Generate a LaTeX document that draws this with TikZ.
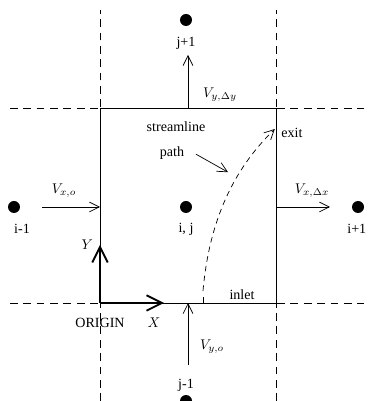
\documentclass[tikz,border=0pt]{standalone}
\usepackage{fontspec}
\setmainfont{Liberation Serif}
\usetikzlibrary{arrows.meta}
\tikzset{
  grid/.style={dash pattern=on 5.5pt off 4pt, line width=0.5pt},
  cell/.style={circle, fill=black, inner sep=0pt, minimum size=0.3cm},
  flux/.style={line width=0.5pt, -{Straight Barb[length=7pt, width=7pt]}},
  axis/.style={line width=1.6pt, -{Straight Barb[length=11pt, width=11pt, line width=1.3pt]}},
  lbl/.style={inner sep=1pt}
}
\begin{document}
\begin{tikzpicture}
    \useasboundingbox (-2.5,-2.45) rectangle (6.75,7.575);

    % Líneas de la malla
    \draw[grid] (-2.25,0) -- (6.6,0);
    \draw[grid] (-2.25,4.875) -- (6.6,4.875);
    \draw[grid] (0,-2.45) -- (0,7.325);
    \draw[grid] (4.4,-2.45) -- (4.4,7.325);

    % Celda
    \draw[line width=0.6pt] (0,0) rectangle (4.4,4.875);

    % Centros de las celdas
    \node[cell] (jp) at (2.15,7.075) {};
    \node[cell] (im) at (-2.15,2.4) {};
    \node[cell] (ij) at (2.15,2.4) {};
    \node[cell] (ip) at (6.45,2.4) {};
    \node[cell] (jm) at (2.15,-2.45) {};
    \node[lbl] at (2.15,6.5) {j+1};
    \node[lbl] at (-1.95,1.85) {i-1};
    \node[lbl] at (2.15,1.85) {i, j};
    \node[lbl] at (6.42,1.85) {i+1};
    \node[lbl] at (2.15,-2.05) {j-1};

    % Velocidades en las caras
    \coordinate (ytop) at (2.2,4.875);
    \coordinate (ytopend) at (2.2,6.2);
    \coordinate (xleft) at (-1.45,2.4);
    \coordinate (xleftend) at (0,2.4);
    \coordinate (xright) at (4.4,2.4);
    \coordinate (xrightend) at (5.75,2.4);
    \coordinate (ybot) at (2.2,-1.55);
    \coordinate (ybotend) at (2.2,0);
    \draw[flux] (ytop) -- (ytopend);
    \draw[flux] (xleft) -- (xleftend);
    \draw[flux] (xright) -- (xrightend);
    \draw[flux] (ybot) -- (ybotend);
    \node[lbl] at (3.0,5.2) {$V_{y,\Delta y}$};
    \node[lbl] at (-0.9,2.8) {$V_{x,o}$};
    \node[lbl] at (5.3,2.8) {$V_{x,\Delta x}$};
    \node[lbl] at (2.8,-1.1) {$V_{y,o}$};

    % Ejes
    \coordinate (orig) at (0,0);
    \coordinate (yax) at (0,1.45);
    \coordinate (xax) at (1.6,0);
    \draw[axis] (orig) -- (yax);
    \draw[axis] (orig) -- (xax);
    \node[lbl] at (-0.32,1.45) {$Y$};
    \node[lbl] at (1.35,-0.5) {$X$};
    \node[lbl] at (0,-0.5) {ORIGIN};

    % Línea de corriente
    \coordinate (inl) at (2.575,0);
    \coordinate (ext) at (4.37,4.35);
    \draw[line width=0.5pt] (inl) -- ++(0,0.15);
    \draw[line width=0.5pt, dash pattern=on 4pt off 3pt, -{Straight Barb[length=7pt, width=7pt]}]
        (2.575,0.3) .. controls (2.75,2.3) and (3.5,3.5) .. (ext);
    \node[lbl] at (3.55,0.22) {inlet};
    \node[lbl] at (4.8,4.25) {exit};
    \node[lbl] (sl) at (1.9,4.4) {streamline};
    \node[lbl] (pth) at (1.8,3.75) {path};
    \draw[flux] (2.4,3.72) -- (3.2,3.27);
\end{tikzpicture}
\end{document}
